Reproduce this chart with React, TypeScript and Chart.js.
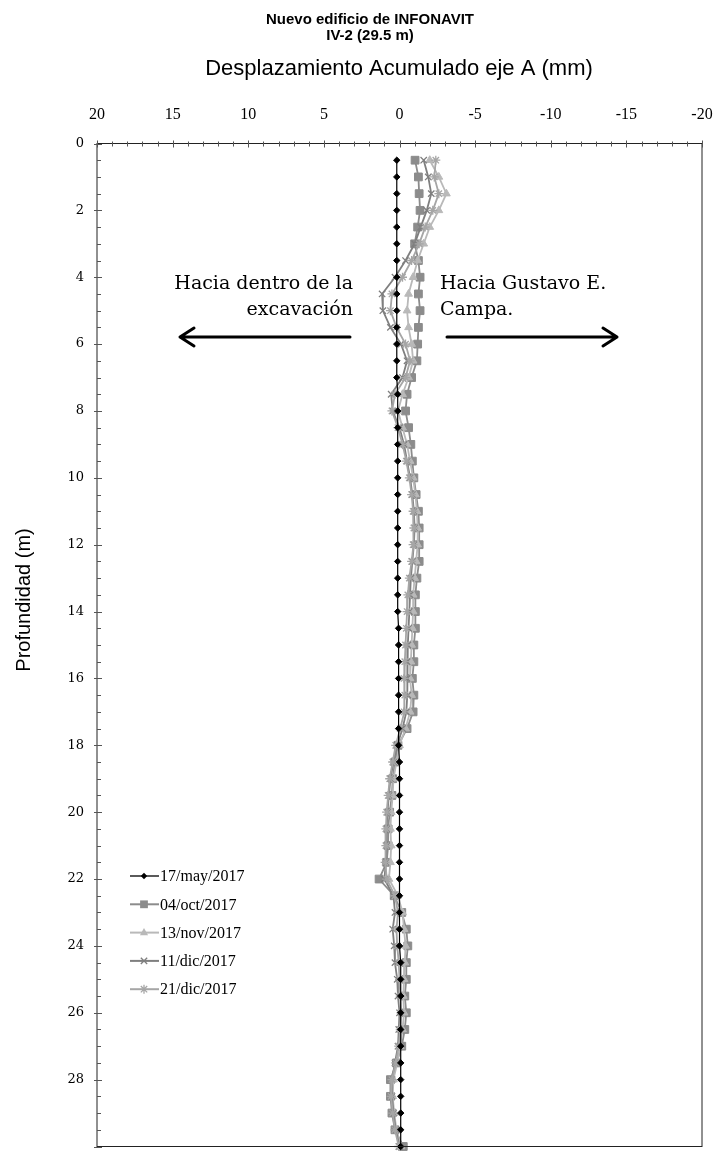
import React, { useEffect, useRef } from 'react';
import { Chart, registerables } from 'chart.js';

Chart.register(...registerables);

// Depth (m) of each reading
const depths = [
  0.5, 1, 1.5, 2, 2.5, 3, 3.5, 4, 4.5, 5, 5.5, 6, 6.5, 7, 7.5, 8, 8.5, 9, 9.5, 10,
  10.5, 11, 11.5, 12, 12.5, 13, 13.5, 14, 14.5, 15, 15.5, 16, 16.5, 17, 17.5, 18, 18.5, 19, 19.5, 20,
  20.5, 21, 21.5, 22, 22.5, 23, 23.5, 24, 24.5, 25, 25.5, 26, 26.5, 27, 27.5, 28, 28.5, 29, 29.5, 30,
];

// Accumulated displacement (mm) per survey
const may17 = [
  0.18, 0.18, 0.18, 0.18, 0.18, 0.18, 0.18, 0.18, 0.18, 0.18, 0.18, 0.18, 0.18, 0.18, 0.12, 0.12, 0.12, 0.12, 0.12, 0.12,
  0.12, 0.12, 0.12, 0.12, 0.12, 0.12, 0.12, 0.12, 0.06, 0.06, 0.06, 0.06, 0.06, 0.06, 0.06, 0.06, 0.0, 0.0, 0.0, 0.0,
  0.0, 0.0, 0.0, 0.0, 0.0, 0.0, 0.0, 0.0, -0.08, -0.08, -0.08, -0.08, -0.08, -0.08, -0.08, -0.08, -0.08, -0.08, -0.08, -0.08,
];
const oct04 = [
  -1.03, -1.25, -1.3, -1.36, -1.2, -1.0, -1.25, -1.36, -1.25, -1.36, -1.25, -1.2, -1.15, -0.8, -0.5, -0.4, -0.6, -0.75, -0.85, -0.95,
  -1.1, -1.25, -1.3, -1.3, -1.3, -1.15, -1.05, -1.05, -1.05, -0.95, -0.95, -0.85, -0.95, -0.9, -0.5, 0.1, 0.3, 0.45, 0.5, 0.65,
  0.75, 0.75, 0.85, 1.35, 0.35, -0.15, -0.45, -0.55, -0.45, -0.45, -0.35, -0.45, -0.35, -0.15, 0.2, 0.6, 0.6, 0.5, 0.3, -0.25,
];
const nov13 = [
  -2.0, -2.6, -3.1, -2.6, -2.0, -1.6, -1.2, -0.9, -0.6, -0.5, -0.6, -0.8, -0.9, -0.6, -0.2, 0.1, -0.2, -0.5, -0.7, -0.9,
  -1.05, -1.15, -1.2, -1.2, -1.1, -1.0, -0.9, -0.9, -0.85, -0.8, -0.75, -0.7, -0.8, -0.7, -0.4, 0.0, 0.2, 0.4, 0.45, 0.55,
  0.6, 0.55, 0.6, 0.7, 0.1, -0.2, -0.3, -0.4, -0.35, -0.3, -0.25, -0.3, -0.2, -0.05, 0.15, 0.4, 0.45, 0.35, 0.2, -0.1,
];
const dic11 = [
  -1.6, -1.9, -2.1, -1.8, -1.4, -1.0, -0.4, 0.3, 1.15, 1.1, 0.6, -0.1, -0.5, -0.2, 0.55, 0.45, 0.0, -0.3, -0.5, -0.7,
  -0.85, -0.95, -1.0, -0.95, -0.85, -0.75, -0.7, -0.65, -0.6, -0.55, -0.5, -0.5, -0.55, -0.45, -0.2, 0.15, 0.4, 0.6, 0.7, 0.8,
  0.85, 0.85, 0.9, 1.0, 0.4, 0.3, 0.45, 0.35, 0.3, 0.15, 0.1, 0.0, 0.05, 0.1, 0.3, 0.5, 0.5, 0.4, 0.25, 0.0,
];
const dic21 = [
  -2.4, -2.3, -2.6, -2.2, -1.7, -1.3, -0.8, -0.2, 0.5, 0.6, 0.2, -0.4, -0.7, -0.4, 0.3, 0.5, 0.1, -0.2, -0.45, -0.65,
  -0.8, -0.9, -0.95, -0.9, -0.8, -0.65, -0.55, -0.5, -0.45, -0.4, -0.35, -0.3, -0.35, -0.3, -0.05, 0.25, 0.45, 0.65, 0.75, 0.85,
  0.9, 0.9, 0.95, 0.85, 0.3, 0.1, 0.2, 0.15, 0.05, 0.0, -0.05, -0.1, -0.05, 0.05, 0.25, 0.5, 0.55, 0.45, 0.3, 0.05,
];

const seriesLabels = ['17/may/2017', '04/oct/2017', '13/nov/2017', '11/dic/2017', '21/dic/2017'];
const seriesValues = [may17, oct04, nov13, dic11, dic21];
const seriesColors = ['#000000', '#8c8c8c', '#b9b9b9', '#7f7f7f', '#a6a6a6'];
const seriesMarkers = ['rectRot', 'rect', 'triangle', 'crossRot', 'star'];
const seriesRadius = [3.2, 5.5, 4.5, 4.5, 4.5];
const seriesOrder = [0, 4, 3, 2, 1];

const titleLines = ['Nuevo edificio de INFONAVIT', 'IV-2 (29.5 m)'];
const xAxisTitle = 'Desplazamiento Acumulado eje A (mm)';
const yAxisTitle = 'Profundidad (m)';
const leftNote = ['Hacia dentro de la', 'excavación'];
const rightNote = ['Hacia Gustavo E.', 'Campa.'];

function drawMarker(ctx: CanvasRenderingContext2D, style: string, x: number, y: number, r: number, color: string) {
  ctx.save();
  ctx.fillStyle = color;
  ctx.strokeStyle = color;
  ctx.lineWidth = 1.3;
  ctx.beginPath();
  if (style === 'rect') {
    const s = r * Math.SQRT1_2;
    ctx.rect(x - s, y - s, 2 * s, 2 * s);
    ctx.fill();
  } else if (style === 'rectRot') {
    ctx.moveTo(x, y - r);
    ctx.lineTo(x + r, y);
    ctx.lineTo(x, y + r);
    ctx.lineTo(x - r, y);
    ctx.closePath();
    ctx.fill();
  } else if (style === 'triangle') {
    ctx.moveTo(x, y - r);
    ctx.lineTo(x + r * 0.9, y + r * 0.6);
    ctx.lineTo(x - r * 0.9, y + r * 0.6);
    ctx.closePath();
    ctx.fill();
  } else if (style === 'crossRot') {
    const s = r * Math.SQRT1_2;
    ctx.moveTo(x - s, y - s); ctx.lineTo(x + s, y + s);
    ctx.moveTo(x + s, y - s); ctx.lineTo(x - s, y + s);
    ctx.stroke();
  } else if (style === 'star') {
    const s = r * Math.SQRT1_2;
    ctx.moveTo(x - s, y - s); ctx.lineTo(x + s, y + s);
    ctx.moveTo(x + s, y - s); ctx.lineTo(x - s, y + s);
    ctx.moveTo(x, y - r); ctx.lineTo(x, y + r);
    ctx.stroke();
  }
  ctx.restore();
}

function drawArrow(ctx: CanvasRenderingContext2D, x1: number, x2: number, y: number) {
  const dir = Math.sign(x2 - x1);
  ctx.beginPath();
  ctx.moveTo(x1, y);
  ctx.lineTo(x2, y);
  ctx.moveTo(x2 - dir * 14, y - 9);
  ctx.lineTo(x2, y);
  ctx.lineTo(x2 - dir * 14, y + 9);
  ctx.stroke();
}

const overlayPlugin = {
  id: 'overlay',
  afterDraw(chart: any) {
    const { ctx, chartArea: a, scales } = chart;
    const xs = scales.x;
    const ys = scales.y;
    ctx.save();

    // plot frame
    ctx.strokeStyle = '#222';
    ctx.lineWidth = 1;
    ctx.strokeRect(a.left, a.top, a.right - a.left, a.bottom - a.top);

    // minor ticks on the top axis (every 1 mm)
    ctx.strokeStyle = '#555';
    for (let v = -20; v <= 20; v++) {
      const x = Math.round(xs.getPixelForValue(v)) + 0.5;
      const major = v % 5 === 0;
      ctx.beginPath();
      ctx.moveTo(x, a.top - (major ? 3 : 2));
      ctx.lineTo(x, a.top + (major ? 4 : 3));
      ctx.stroke();
    }
    // minor ticks on the left axis (every 0.5 m)
    for (let i = 0; i <= 60; i++) {
      const d = i * 0.5;
      const y = Math.round(ys.getPixelForValue(d)) + 0.5;
      const major = i % 4 === 0;
      ctx.beginPath();
      ctx.moveTo(a.left - (major ? 3 : 0), y);
      ctx.lineTo(a.left + (major ? 5 : 4), y);
      ctx.stroke();
    }

    ctx.fillStyle = '#000';
    // chart title
    ctx.textAlign = 'center';
    ctx.textBaseline = 'middle';
    ctx.font = 'bold 15px "Liberation Sans", Arial, sans-serif';
    ctx.fillText(titleLines[0], 370, 20);
    ctx.fillText(titleLines[1], 370, 36);

    // x-axis title
    ctx.font = '22px "Liberation Sans", Arial, sans-serif';
    ctx.fillText(xAxisTitle, 399, 69);

    // y-axis title
    ctx.save();
    ctx.translate(24, 600);
    ctx.rotate(-Math.PI / 2);
    ctx.font = '20px "Liberation Sans", Arial, sans-serif';
    ctx.fillText(yAxisTitle, 0, 0);
    ctx.restore();

    // annotations
    ctx.font = '19px "DejaVu Serif", serif';
    ctx.textBaseline = 'alphabetic';
    ctx.textAlign = 'right';
    ctx.fillText(leftNote[0], 353, 289);
    ctx.fillText(leftNote[1], 353, 315);
    ctx.textAlign = 'left';
    ctx.fillText(rightNote[0], 440, 289);
    ctx.fillText(rightNote[1], 440, 315);

    ctx.strokeStyle = '#000';
    ctx.lineWidth = 3;
    ctx.lineCap = 'round';
    ctx.lineJoin = 'round';
    drawArrow(ctx, 350, 180, 337);
    drawArrow(ctx, 447, 617, 337);

    // legend
    ctx.font = '16px "Liberation Serif", "Times New Roman", serif';
    ctx.textAlign = 'left';
    ctx.textBaseline = 'middle';
    seriesLabels.forEach((lab, i) => {
      const y = 876 + i * 28.3;
      ctx.strokeStyle = seriesColors[i];
      ctx.lineWidth = i === 0 ? 1.3 : 2;
      ctx.lineCap = 'butt';
      ctx.beginPath();
      ctx.moveTo(130, y);
      ctx.lineTo(159, y);
      ctx.stroke();
      drawMarker(ctx, seriesMarkers[i], 144, y, seriesRadius[i], seriesColors[i]);
      ctx.fillStyle = '#000';
      ctx.fillText(lab, 160, y + 1);
    });

    ctx.restore();
  },
};

function clearScalePadding(s: any) {
  s.paddingLeft = 0;
  s.paddingRight = 0;
  s.paddingTop = 0;
  s.paddingBottom = 0;
}

export default function App() {
  const canvasRef = useRef<HTMLCanvasElement | null>(null);

  useEffect(() => {
    const canvas = canvasRef.current;
    if (!canvas) return;
    const datasets = seriesLabels.map((label, i) => ({
      label,
      data: depths.map((d, k) => ({ x: seriesValues[i][k], y: d })),
      showLine: true,
      borderColor: seriesColors[i],
      backgroundColor: seriesColors[i],
      borderWidth: i === 0 ? 1.2 : 1.8,
      pointStyle: seriesMarkers[i],
      pointRadius: seriesRadius[i],
      pointBorderWidth: i === 3 || i === 4 ? 1.3 : 1,
      pointBorderColor: seriesColors[i],
      pointBackgroundColor: seriesColors[i],
      order: seriesOrder[i],
      clip: 6,
    }));

    const chart = new Chart(canvas, {
      type: 'scatter',
      data: { datasets },
      options: {
        animation: false,
        responsive: false,
        devicePixelRatio: 1,
        layout: { padding: { left: 0, right: 11, top: 0, bottom: 3.5 } },
        plugins: {
          legend: { display: false },
          tooltip: { enabled: false },
        },
        scales: {
          x: {
            type: 'linear',
            position: 'top',
            min: -20,
            max: 20,
            reverse: true,
            afterFit: (s: any) => { s.height = 143.5; clearScalePadding(s); },
            ticks: {
              stepSize: 5,
              autoSkip: false,
              maxRotation: 0,
              padding: 19,
              color: '#000',
              font: { family: '"Liberation Serif", "Times New Roman", serif', size: 16 },
            },
            grid: { display: false, drawTicks: false },
            border: { display: false },
          },
          y: {
            type: 'linear',
            position: 'left',
            min: 0,
            max: 30,
            reverse: true,
            afterFit: (s: any) => { s.width = 97; clearScalePadding(s); },
            ticks: {
              stepSize: 2,
              autoSkip: false,
              padding: 13,
              color: '#000',
              font: { family: '"DejaVu Serif", serif', size: 13 },
              callback: (v: any) => (v < 30 ? String(v) : ''),
            },
            grid: { display: false, drawTicks: false },
            border: { display: false },
          },
        },
      },
      plugins: [overlayPlugin],
    } as any);

    return () => chart.destroy();
  }, []);

  return (
    <div style={{ position: 'absolute', left: 0, top: 0, width: 713, height: 1153, background: '#fff' }}>
      <canvas ref={canvasRef} width={713} height={1153} style={{ display: 'block' }} />
    </div>
  );
}
